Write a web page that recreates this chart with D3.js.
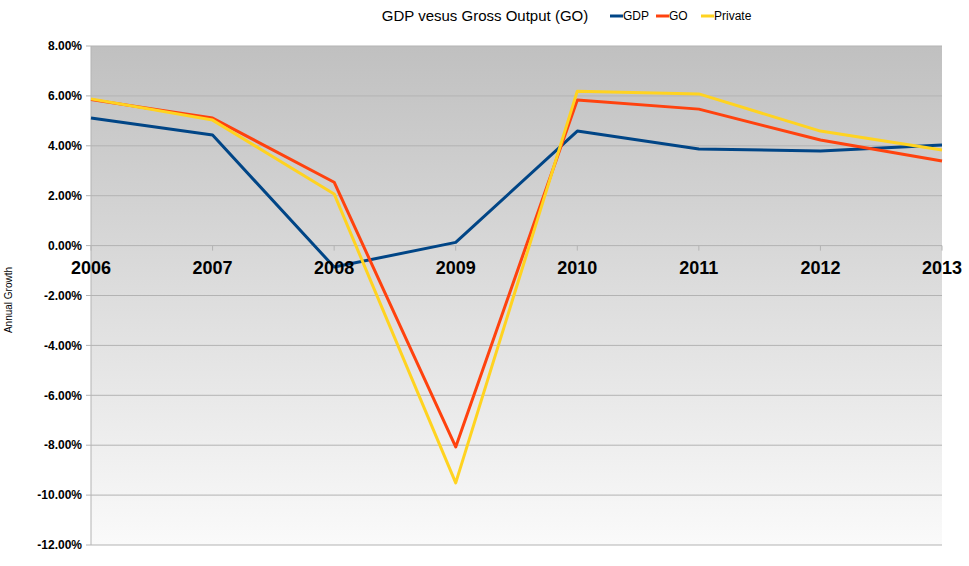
<!DOCTYPE html>
<html>
<head>
<meta charset="utf-8">
<script src="https://d3js.org/d3.v7.min.js"></script>
<style>
  body { margin: 0; background: #fff; }
  text { font-family: "Liberation Sans", Arial, sans-serif; }
</style>
</head>
<body>
<div id="chart"></div>
<script>
const years = ['2006', '2007', '2008', '2009', '2010', '2011', '2012', '2013'];
const gdp = [5.11, 4.43, -0.86, 0.13, 4.59, 3.87, 3.79, 4.03];
const go = [5.85, 5.11, 2.54, -8.07, 5.84, 5.47, 4.23, 3.39];
const priv = [5.88, 5.03, 2.07, -9.51, 6.19, 6.08, 4.59, 3.83];
const yTicks = [8, 6, 4, 2, 0, -2, -4, -6, -8, -10, -12];

const series = [
  { name: 'GDP', values: gdp, color: '#004586' },
  { name: 'GO', values: go, color: '#ff420e' },
  { name: 'Private', values: priv, color: '#ffd320' }
];

const width = 969, height = 566;
const margin = { left: 91, right: 27, top: 46, bottom: 21 };

const svg = d3.select('#chart').append('svg')
  .attr('width', width)
  .attr('height', height);

const x = d3.scalePoint().domain(years).range([margin.left, width - margin.right]);
const y = d3.scaleLinear().domain([-12, 8]).range([height - margin.bottom, margin.top]);

// background gradient
const grad = svg.append('defs').append('linearGradient')
  .attr('id', 'bg').attr('x1', 0).attr('y1', 0).attr('x2', 0).attr('y2', 1);
grad.append('stop').attr('offset', '0%').attr('stop-color', '#c0c0c0');
grad.append('stop').attr('offset', '100%').attr('stop-color', '#fafafa');

svg.append('rect')
  .attr('x', margin.left).attr('y', margin.top)
  .attr('width', width - margin.right - margin.left)
  .attr('height', y(-12) - y(8))
  .attr('fill', 'url(#bg)');

// grid lines
svg.append('g').selectAll('line')
  .data(yTicks)
  .join('line')
  .attr('x1', margin.left - 5).attr('x2', width - margin.right)
  .attr('y1', d => y(d)).attr('y2', d => y(d))
  .attr('stroke', '#b3b3b3').attr('stroke-width', 1);

// y axis line
svg.append('line')
  .attr('x1', margin.left).attr('x2', margin.left)
  .attr('y1', y(8)).attr('y2', y(-12))
  .attr('stroke', '#b3b3b3');

// x ticks on zero line
svg.append('g').selectAll('line')
  .data(years)
  .join('line')
  .attr('x1', d => x(d)).attr('x2', d => x(d))
  .attr('y1', y(0)).attr('y2', y(0) + 5)
  .attr('stroke', '#b3b3b3');

// y tick labels
svg.append('g').selectAll('text')
  .data(yTicks)
  .join('text')
  .attr('x', margin.left - 9)
  .attr('y', d => y(d))
  .attr('dy', '0.35em')
  .attr('text-anchor', 'end')
  .attr('font-size', 12)
  .attr('font-weight', 'bold')
  .text(d => d.toFixed(2) + '%');

// y axis title
svg.append('text')
  .attr('transform', `translate(12, 300) rotate(-90)`)
  .attr('text-anchor', 'middle')
  .attr('font-size', 10)
  .text('Annual Growth');

// lines
const line = d3.line()
  .x((d, i) => x(years[i]))
  .y(d => y(d));

svg.append('g').selectAll('path')
  .data(series)
  .join('path')
  .attr('d', d => line(d.values))
  .attr('fill', 'none')
  .attr('stroke', d => d.color)
  .attr('stroke-width', 3)
  .attr('stroke-linejoin', 'round');

// x labels (drawn over lines)
svg.append('g').selectAll('text')
  .data(years)
  .join('text')
  .attr('x', d => x(d))
  .attr('y', y(0) + 28)
  .attr('text-anchor', 'middle')
  .attr('font-size', 18)
  .attr('font-weight', 'bold')
  .text(d => d);

// title
svg.append('text')
  .attr('x', 485).attr('y', 21)
  .attr('text-anchor', 'middle')
  .attr('font-size', 15)
  .text('GDP vesus Gross Output (GO)');

// legend
const legendX = [610, 656, 701];
const leg = svg.append('g').selectAll('g')
  .data(series)
  .join('g')
  .attr('transform', (d, i) => `translate(${legendX[i]}, 16)`);
leg.append('line')
  .attr('x1', 0).attr('x2', 13)
  .attr('stroke', d => d.color).attr('stroke-width', 3);
leg.append('text')
  .attr('x', 13).attr('dy', '0.35em')
  .attr('font-size', 12)
  .text(d => d.name);
</script>
</body>
</html>
